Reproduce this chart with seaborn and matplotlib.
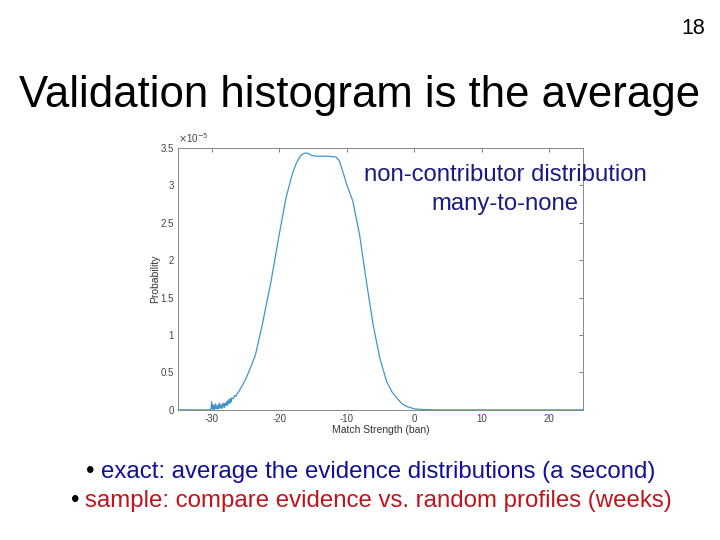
import numpy as np
import pandas as pd
import matplotlib
matplotlib.use("Agg")
import matplotlib.pyplot as plt
import seaborn as sns

# --- Data, probability in units of 1e-5
strength = [-35.0, -30.1, -30.0,
            -29.9, -29.8, -29.7, -29.6, -29.5, -29.4, -29.3, -29.2, -29.1, -29.0,
            -28.9, -28.8, -28.7, -28.6, -28.5, -28.4, -28.3, -28.2, -28.1, -28.0,
            -27.9, -27.8, -27.7, -27.6, -27.5, -27.4, -27.3, -27.2, -27.1, -27.0,
            -26.8, -26.6, -26.4, -26.2, -26.0,
            -25.5, -24.9, -24.0, -23.5, -22.5, -21.2, -20.0, -19.0, -18.0, -17.4,
            -16.8, -16.3, -15.8, -15.2, -14.5, -13.0, -11.6, -11.1, -10.6, -10.0,
            -9.1, -8.1, -7.1, -6.1, -5.1, -4.1, -3.3, -2.6, -1.8, -1.1, 0.0,
            1.5, 3.3, 25.0]
prob = [0.0, 0.0, 0.11,
        0.01, 0.07, 0.00, 0.06, 0.01, 0.08, 0.02, 0.05, 0.01, 0.07,
        0.02, 0.09, 0.03, 0.06, 0.02, 0.08, 0.04, 0.09, 0.03, 0.08,
        0.06, 0.11, 0.06, 0.12, 0.08, 0.14, 0.09, 0.15, 0.11, 0.16,
        0.15, 0.19, 0.18, 0.22, 0.24,
        0.32, 0.42, 0.62, 0.74, 1.14, 1.72, 2.34, 2.83, 3.17, 3.31,
        3.40, 3.43, 3.43, 3.40, 3.39, 3.39, 3.38, 3.33, 3.19, 3.01,
        2.79, 2.34, 1.72, 1.14, 0.69, 0.38, 0.24, 0.16, 0.08, 0.045, 0.013,
        0.003, 0.0, 0.0]

x_ticks = [-30, -20, -10, 0, 10, 20]
y_ticks = [0, 0.5, 1, 1.5, 2, 2.5, 3, 3.5]
y_tick_labels = ["0", "0.5", "1", "1.5", "2", "2.5", "3", "3.5"]

title = "Validation histogram is the average"
note_lines = ["non-contributor distribution", "many-to-none"]
bullet_1 = "exact: average the evidence distributions (a second)"
bullet_2 = "sample: compare evidence vs. random profiles (weeks)"
page_no = "18"

df = pd.DataFrame({"strength": strength, "prob": np.array(prob) * 1e-5})

sns.set_style("white")
plt.rcParams["font.family"] = ["Liberation Sans", "DejaVu Sans"]
plt.rcParams["axes.unicode_minus"] = False
plt.rcParams["text.color"] = "black"

fig = plt.figure(figsize=(7.2, 5.4), dpi=100)
ax = fig.add_axes([0.247, 0.241, 0.563, 0.485])

sns.lineplot(data=df, x="strength", y="prob", ax=ax, color="#4295cc", linewidth=0.9)

ax.set_xlim(-35, 25)
ax.set_ylim(0, 3.5e-5)
ax.set_xticks(x_ticks)
ax.set_xticklabels([str(t) for t in x_ticks])
ax.set_yticks([v * 1e-5 for v in y_ticks])
ax.set_yticklabels(y_tick_labels)
ax.tick_params(direction="in", top=True, right=True, length=3, width=0.6,
               color="#666666", labelsize=7, labelcolor="#444444", pad=3)
for s in ax.spines.values():
    s.set_color("#888888")
    s.set_linewidth(0.7)
ax.text(0.0, 1.012, r"$\times$10$^{-5}$", transform=ax.transAxes,
        fontsize=7, color="#444444", ha="left", va="bottom")
ax.set_xlabel("Match Strength (ban)", fontsize=7.5, color="#333333", labelpad=1)
ax.set_ylabel("Probability", fontsize=7.5, color="#333333", labelpad=0)

# slide text
fig.text(705 / 720, 1 - 29 / 540, page_no, ha="right", va="center", fontsize=15.5)
fig.text(0.5, 1 - 96 / 540, title, ha="center", va="center", fontsize=31.5)
fig.text(505 / 720, 1 - 175 / 540, note_lines[0], ha="center", va="center",
         fontsize=17.2, color="#1a1a80")
fig.text(505 / 720, 1 - 204 / 540, note_lines[1], ha="center", va="center",
         fontsize=17.2, color="#1a1a80")

fig.text(86 / 720, 1 - 472 / 540, "\u2022", ha="left", va="center", fontsize=17.3)
fig.text(101 / 720, 1 - 472 / 540, bullet_1, ha="left", va="center",
         fontsize=17.3, color="#10109a")
fig.text(71 / 720, 1 - 501 / 540, "\u2022", ha="left", va="center", fontsize=17.3)
fig.text(85 / 720, 1 - 501 / 540, bullet_2, ha="left", va="center",
         fontsize=17.3, color="#c0141c")

fig.savefig("out.png", dpi=100)
